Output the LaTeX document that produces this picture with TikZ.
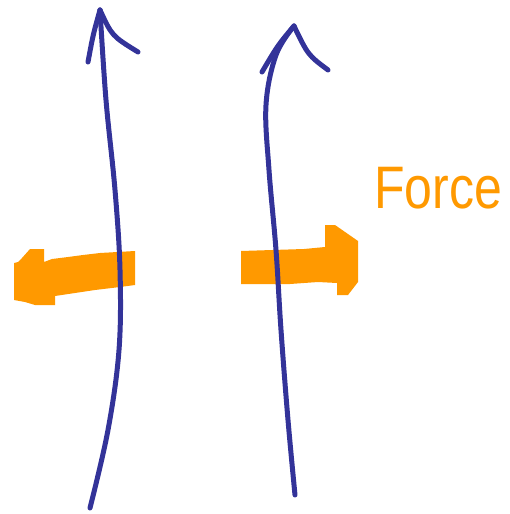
\documentclass[tikz,border=0pt]{standalone}
\usepackage{fontspec}
\setmainfont{Liberation Sans}
\definecolor{penblue}{RGB}{51,51,153}
\definecolor{penorange}{RGB}{255,153,0}
\begin{document}
\begin{tikzpicture}[x=1pt,y=-1pt,
  shaft/.style={draw=penblue,line width=5pt,line cap=round,line join=round},
  bigarrow/.style={fill=penorange,draw=none}]
\useasboundingbox (0,0) rectangle (509,514);
% left orange arrow
\path[bigarrow] (30,249) -- (44,249) -- (44,262) -- (52,259) -- (68,257) -- (83,255) -- (100,253) -- (135,251)
  -- (135,285) -- (120,287) -- (95,290) -- (75,293) -- (55,296) -- (55,305) -- (35,305) -- (25,302) -- (14,300)
  -- (14,263) -- (18,262) -- (22,258) -- cycle;
% right orange arrow
\path[bigarrow] (241,251) -- (304,249) -- (325,247) -- (325,225) -- (335,225) -- (358,241) -- (358,282)
  -- (348,295) -- (337,295) -- (337,283) -- (318,282) -- (290,284) -- (241,284) -- cycle;
% left blue arrow
\coordinate (ltop) at (100,10);
\coordinate (lbot) at (90,508);
\draw[shaft] plot[smooth,tension=0.6] coordinates {(lbot) (108,430) (119,350) (120,270) (115,190) (106,100) (ltop)};
\draw[shaft] (ltop) .. controls (112,36) .. (138,52);
\draw[shaft] (ltop) .. controls (93,35) .. (88,62);
% right blue arrow
\coordinate (rtop) at (294,26);
\coordinate (rbot) at (295,495);
\draw[shaft] plot[smooth,tension=0.6] coordinates {(rbot) (288,420) (281,330) (276,250) (269,170) (266,105) (276,55) (rtop)};
\draw[shaft] (rtop) .. controls (308,55) .. (328,70);
\draw[shaft] (rtop) .. controls (278,45) .. (262,72);
% label
\node[text=penorange,font=\fontsize{50}{50}\selectfont,yscale=1.2,inner sep=0pt] (force) at (438,188) {Force};
\end{tikzpicture}
\end{document}
